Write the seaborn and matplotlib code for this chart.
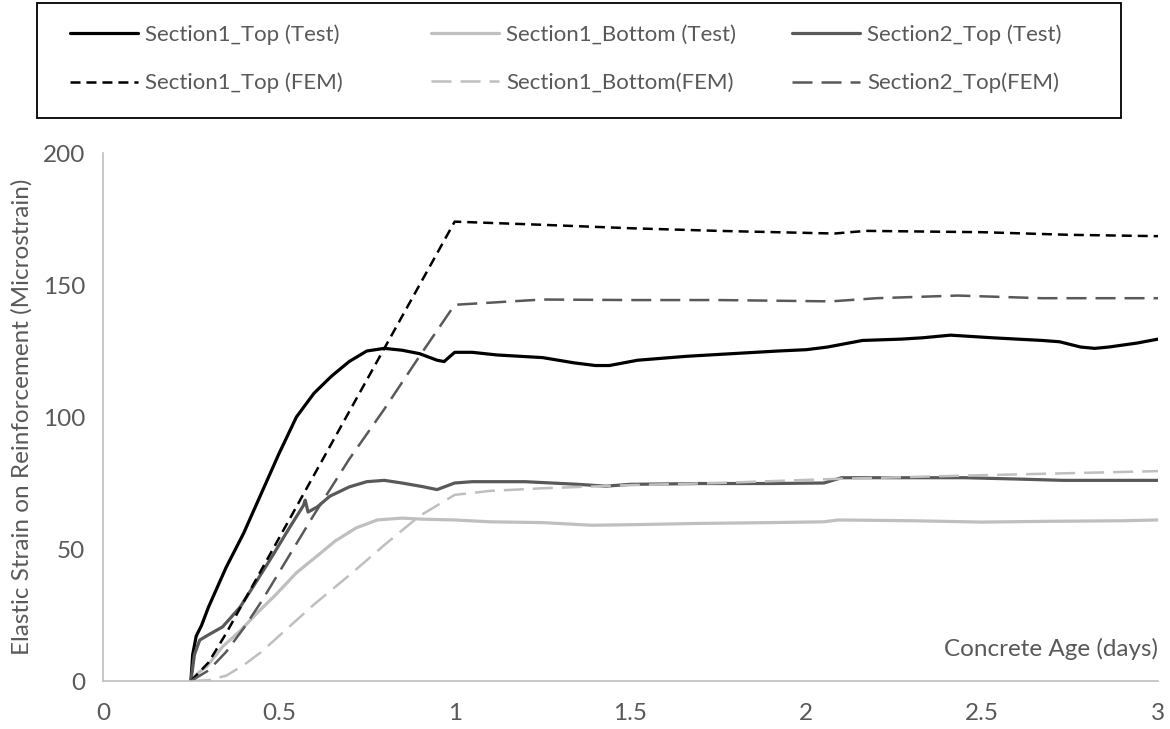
import matplotlib
matplotlib.use("Agg")
import matplotlib.pyplot as plt
from matplotlib.patches import Rectangle
import seaborn as sns

# Measured strain (test) series
s1_top_test_x = [0.25, 0.255, 0.265, 0.28, 0.30, 0.35, 0.40, 0.45, 0.50, 0.55, 0.60, 0.65,
                 0.70, 0.75, 0.80, 0.85, 0.90, 0.95, 0.97, 1.00, 1.05, 1.12, 1.25, 1.34,
                 1.40, 1.44, 1.48, 1.52, 1.66, 1.79, 1.92, 2.00, 2.06, 2.16, 2.27, 2.33,
                 2.41, 2.47, 2.53, 2.67, 2.72, 2.78, 2.82, 2.86, 2.94, 3.00]
s1_top_test_y = [0, 10, 17, 21, 28, 43, 56, 71, 86, 100, 109, 115.5,
                 121, 125, 126, 125.3, 124, 121.5, 121, 124.5, 124.5, 123.5, 122.5, 120.5,
                 119.5, 119.5, 120.5, 121.5, 123, 124, 125, 125.5, 126.5, 129, 129.5, 130,
                 131, 130.5, 130, 129, 128.5, 126.5, 126, 126.5, 128, 129.5]

s1_bot_test_x = [0.25, 0.27, 0.295, 0.34, 0.39, 0.44, 0.49, 0.55, 0.61, 0.66, 0.72, 0.78,
                 0.85, 0.91, 1.00, 1.10, 1.25, 1.39, 1.50, 1.70, 1.90, 2.05, 2.09, 2.30,
                 2.50, 2.70, 2.90, 3.00]
s1_bot_test_y = [0, 3, 5.5, 13, 19, 26, 32.5, 41, 47.5, 53, 58, 61,
                 61.7, 61.3, 61, 60.3, 60, 59, 59.2, 59.7, 60, 60.3, 61, 60.7,
                 60.2, 60.5, 60.7, 61]

s2_top_test_x = [0.25, 0.26, 0.275, 0.30, 0.34, 0.39, 0.44, 0.48, 0.53, 0.57, 0.575, 0.583,
                 0.59, 0.61, 0.645, 0.70, 0.75, 0.80, 0.85, 0.91, 0.95, 1.00, 1.05, 1.20,
                 1.35, 1.43, 1.50, 1.70, 1.90, 2.05, 2.10, 2.30, 2.45, 2.60, 2.73, 2.90, 3.00]
s2_top_test_y = [0, 10, 15.5, 17.5, 20.5, 28, 38.5, 47, 58, 66.5, 68.5, 64,
                 64.5, 66, 70, 73.5, 75.5, 76, 75, 73.6, 72.5, 75, 75.5, 75.5,
                 74.5, 73.8, 74.5, 74.8, 74.8, 75, 77, 77, 77, 76.5, 76, 76, 76]

# Finite element model series
s1_top_fem_x = [0.25, 0.30, 0.35, 0.40, 1.00, 1.25, 1.50, 1.75, 2.08, 2.17, 2.50, 2.75, 3.00]
s1_top_fem_y = [0, 7, 18, 30, 174, 172.8, 171.5, 170.5, 169.5, 170.5, 170, 169, 168.5]

s1_bot_fem_x = [0.25, 0.30, 0.35, 0.40, 0.45, 0.50, 0.60, 0.70, 0.80, 0.90, 1.00, 1.10,
                1.25, 1.50, 1.75, 2.07, 2.45, 3.00]
s1_bot_fem_y = [0, 0.3, 2, 6, 11, 17, 29, 40, 51.5, 62.5, 70.5, 72,
                73, 74.2, 75, 76.5, 77.8, 79.5]

s2_top_fem_x = [0.25, 0.30, 0.35, 0.40, 0.45, 0.50, 0.60, 0.70, 0.80, 0.90, 1.00, 1.25,
                1.50, 1.75, 2.07, 2.20, 2.43, 2.67, 3.00]
s2_top_fem_y = [0, 4, 11, 20, 30, 41, 63, 84, 103, 123, 142.5, 144.5,
                144.3, 144.3, 143.8, 145, 146, 145, 145]

x_ticks = [0, 0.5, 1, 1.5, 2, 2.5, 3]
x_tick_labels = ["0", "0.5", "1", "1.5", "2", "2.5", "3"]
y_ticks = [0, 50, 100, 150, 200]
y_tick_labels = ["0", "50", "100", "150", "200"]

sns.set_theme(style="white")
plt.rcParams["font.family"] = ["Lato", "DejaVu Sans"]
plt.rcParams["lines.scale_dashes"] = False

TEXT = "#595959"
AXIS = "#BFBFBF"
BLACK = "#000000"
LIGHT = "#BFBFBF"
DARK = "#595959"
FS = 17.5       # axis text
LFS = 16        # legend text

W, H = 1170, 729
fig = plt.figure(figsize=(W / 100, H / 100), dpi=100)
ax = fig.add_axes([103 / W, (H - 681) / H, (1158 - 103) / W, (681 - 153) / H])

short_dash = (0, (7.2, 4.3))
long_dash = (0, (14.4, 6.5))

series = [
    (s1_top_test_x, s1_top_test_y, BLACK, "-", 2.3, "Section1_Top (Test)"),
    (s1_bot_test_x, s1_bot_test_y, LIGHT, "-", 2.3, "Section1_Bottom (Test)"),
    (s2_top_test_x, s2_top_test_y, DARK, "-", 2.3, "Section2_Top (Test)"),
    (s1_top_fem_x, s1_top_fem_y, BLACK, short_dash, 1.8, "Section1_Top (FEM)"),
    (s1_bot_fem_x, s1_bot_fem_y, LIGHT, long_dash, 1.8, "Section1_Bottom(FEM)"),
    (s2_top_fem_x, s2_top_fem_y, DARK, long_dash, 1.8, "Section2_Top(FEM)"),
]
handles = {}
for xs, ys, col, ls, lw, lab in series:
    sns.lineplot(x=xs, y=ys, color=col, linestyle=ls, linewidth=lw, ax=ax,
                 sort=False, estimator=None, errorbar=None, legend=False, label=lab)
    handles[lab] = ax.get_lines()[-1]

ax.set_xlim(0, 3)
ax.set_ylim(0, 200)
ax.set_xticks(x_ticks)
ax.set_xticklabels(x_tick_labels)
ax.set_yticks(y_ticks)
ax.set_yticklabels(y_tick_labels)
ax.tick_params(axis="both", direction="in", length=5, width=1, color=AXIS,
               labelsize=FS, labelcolor=TEXT)
ax.tick_params(axis="x", pad=15.5)
ax.tick_params(axis="y", pad=13)
for side in ("top", "right"):
    ax.spines[side].set_visible(False)
for side in ("left", "bottom"):
    ax.spines[side].set_color(AXIS)
    ax.spines[side].set_linewidth(1.2)

ax.set_ylabel("Elastic Strain on Reinforcement (Microstrain)", fontsize=FS, color=TEXT)
ax.yaxis.set_label_coords((33 - 103) / (1158 - 103), 0.5)
ax.set_xlabel("Concrete Age (days)", fontsize=FS, color=TEXT, ha="right", va="center")
ax.xaxis.set_label_coords(1.0, (681 - 649) / (681 - 153))

# Legend: three equal-width columns inside one framed box
columns = [
    ("Section1_Top (Test)", "Section1_Top (FEM)", 70),
    ("Section1_Bottom (Test)", "Section1_Bottom(FEM)", 431),
    ("Section2_Top (Test)", "Section2_Top(FEM)", 792),
]
for top_lab, bot_lab, x0 in columns:
    leg = fig.legend([handles[top_lab], handles[bot_lab]], [top_lab, bot_lab],
                     loc="center left", bbox_to_anchor=(x0 / W, 1 - 59 / H),
                     frameon=False, fontsize=LFS, handlelength=68 / (LFS * 100 / 72),
                     handletextpad=0.32, labelspacing=1.25, borderpad=0, borderaxespad=0)
    for t in leg.get_texts():
        t.set_color(TEXT)

fig.patches.append(Rectangle((37 / W, 1 - 118 / H), (1121 - 37) / W, (118 - 3) / H,
                             transform=fig.transFigure, fill=False,
                             edgecolor="black", linewidth=1.3))

fig.savefig("out.png", dpi=100)
